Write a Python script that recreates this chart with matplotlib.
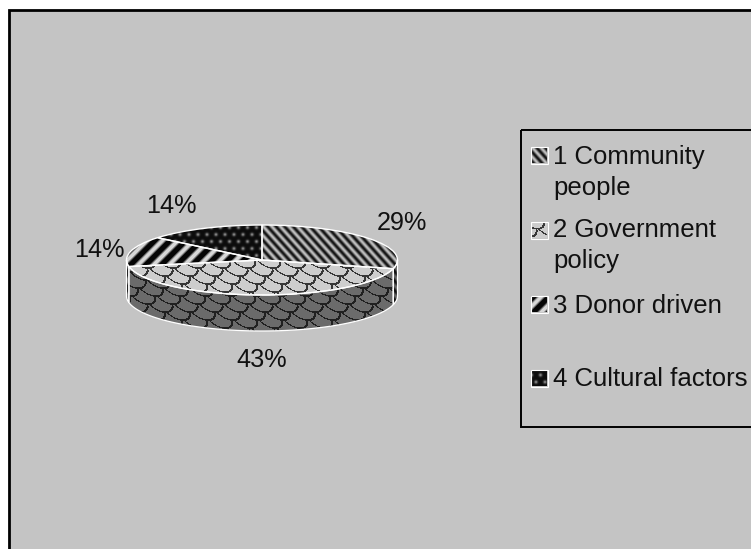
import numpy as np
import matplotlib
matplotlib.use("Agg")
import matplotlib.pyplot as plt
from matplotlib.patches import Rectangle

plt.rcParams['font.family'] = ['Liberation Sans', 'DejaVu Sans']

# Data
values = [29, 43, 14, 14]
legend_labels = ["1 Community\npeople", "2 Government\npolicy", "3 Donor driven", "4 Cultural factors"]

# Layout, in image pixels
W, H = 751, 549
CX, CY, RX, RY, DEPTH = 262, 260, 135.5, 35, 36
pct_pos = [(402, 223), (262, 360), (99, 250), (171, 206)]
swatch_top = [147, 222, 296, 370]
legend_text_y = [154, 227, 303, 376]


# -------------------------------
# FILL PATTERNS
# -------------------------------

def stripes_down(x, y):
    return 105 + 85 * np.cos(2 * np.pi * (x - 0.9 * y) / 8.5)


def stripes_up(x, y):
    wave = np.cos(2 * np.pi * (x + y) / 15.5)
    return np.clip(75 + 170 * wave, 5, 215)


def scales(x, y):
    w, h, r = 25.0, 8.0, 13.0
    xs = x - 0.6 * y
    out = np.full(x.shape, 205.0)
    rows = range(int(y.max() // h) + 3, int(y.min() // h) - 3, -1)
    for j in rows:
        xr = np.mod(xs + (j % 2) * w / 2, w) - w / 2
        d = np.hypot(xr, y - j * h)
        out = np.where(d < r, 205.0, out)
        out = np.where((d >= r - 1.6) & (d < r), 55.0, out)
    return out


def dots(x, y):
    px, py = 9.0, 7.0
    row = np.floor(y / py)
    xr = np.mod(x + row * px / 2, px) - px / 2
    yr = np.mod(y, py) - py / 2
    return 12 + 125 * np.exp(-(xr ** 2 + yr ** 2) / 3.0)


patterns = [stripes_down, scales, stripes_up, dots]

# -------------------------------
# BACKGROUND AND FRAME
# -------------------------------

fig = plt.figure(figsize=(W / 100, H / 100), dpi=100, facecolor='white')
ax = fig.add_axes([0, 0, 1, 1])
ax.set_xlim(0, W)
ax.set_ylim(H, 0)
ax.axis('off')

ax.add_patch(Rectangle((9, 10), W + 20, H + 20, facecolor='#c4c4c4', edgecolor='black', linewidth=2.0))
ax.add_patch(Rectangle((520.5, 130), W, 297, facecolor='none', edgecolor='black', linewidth=1.4))

# -------------------------------
# PIE
# -------------------------------

pie_ax = fig.add_axes([0, 0, 1, 1])
pie_ax.patch.set_visible(False)
wedges, _ = pie_ax.pie(values, startangle=90, counterclock=False, radius=1,
                       wedgeprops={'linewidth': 1.0, 'edgecolor': 'white'})

xg, yg = np.meshgrid(np.arange(110, 415) + 0.5, np.arange(215, 345) + 0.5)
to_unit_x = lambda px: (px - CX) / RX
to_unit_y = lambda py: (CY - py) / RY
extent = [to_unit_x(110), to_unit_x(415), to_unit_y(345), to_unit_y(215)]

edges = np.cumsum([0] + values) / sum(values) * 360
for i, wedge in enumerate(wedges):
    wedge.set_facecolor('none')
    wedge.set_zorder(3)
    tex = patterns[i](xg, yg)
    im = pie_ax.imshow(tex, extent=extent, cmap='gray', vmin=0, vmax=255, aspect='auto',
                       interpolation='bilinear', zorder=2)
    im.set_clip_path(wedge)

    # side wall, only the part facing the viewer
    a0, a1 = max(edges[i], 90), min(edges[i + 1], 270)
    if a1 <= a0:
        continue
    t = np.radians(np.linspace(a0, a1, 80))
    wx = np.sin(t)
    wy = np.cos(t)
    drop = DEPTH / RY
    poly = pie_ax.fill(np.r_[wx, wx[::-1]], np.r_[wy, wy[::-1] - drop],
                       facecolor='none', edgecolor='white', linewidth=0.9, zorder=3)[0]
    wall = 0.5 * patterns[i](xg, yg - DEPTH) + 5
    im2 = pie_ax.imshow(wall, extent=extent, cmap='gray', vmin=0, vmax=255, aspect='auto',
                        interpolation='bilinear', zorder=2)
    im2.set_clip_path(poly)

pie_ax.set_aspect('auto')
pie_ax.set_xlim(to_unit_x(0), to_unit_x(W))
pie_ax.set_ylim(to_unit_y(H), to_unit_y(0))

# -------------------------------
# LABELS AND LEGEND
# -------------------------------

for v, (x, y) in zip(values, pct_pos):
    ax.text(x, y, f"{v}%", fontsize=18.2, ha='center', va='center', color='#111111', zorder=5)

for i, label in enumerate(legend_labels):
    top = swatch_top[i]
    sx, sy = np.meshgrid(np.arange(531, 547) * 1.0, np.arange(top, top + 16) * 1.0)
    ax.imshow(patterns[i](sx, sy), extent=[531, 547, top + 16, top], cmap='gray', vmin=0, vmax=255,
              aspect='auto', interpolation='bilinear', zorder=4)
    ax.add_patch(Rectangle((530.5, top - 0.5), 17, 17, facecolor='none', edgecolor='white',
                           linewidth=0.8, zorder=5))
    ax.text(553, legend_text_y[i] - 9, label, fontsize=18.5, ha='left', va='top', color='#111111',
            linespacing=1.37, zorder=5)

ax.set_xlim(0, W)
ax.set_ylim(H, 0)

fig.savefig("out.png", dpi=100, facecolor='white')
